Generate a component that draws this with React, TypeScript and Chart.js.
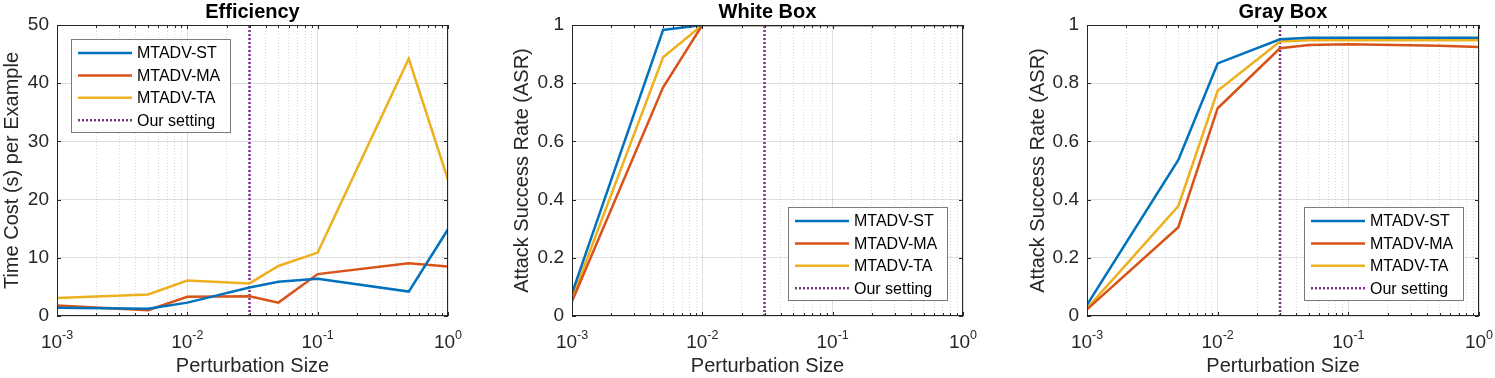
import React, { useEffect, useRef } from "react";
import { Chart, registerables } from "chart.js";

Chart.register(...registerables);

const FONT = "'Liberation Sans', Arial, Helvetica, sans-serif";

// ---------------- data ----------------
const perturbation = [0.001, 0.005, 0.01, 0.03, 0.05, 0.1, 0.5, 1];
const seriesNames = ["MTADV-ST", "MTADV-MA", "MTADV-TA"];
const settingLabel = "Our setting";
const ourSetting = 0.03;

const effST = [1.43, 1.26, 2.3, 4.9, 5.9, 6.4, 4.2, 14.9];
const effMA = [1.8, 1.0, 3.3, 3.4, 2.3, 7.2, 9.05, 8.5];
const effTA = [3.1, 3.7, 6.1, 5.6, 8.6, 10.9, 44.2, 23.4];

const whiteST = [0.078, 0.983, 1, 1, 1, 1, 1, 1];
const whiteMA = [0.05, 0.786, 1, 1, 1, 1, 1, 1];
const whiteTA = [0.06, 0.889, 1, 1, 1, 1, 1, 1];

const grayST = [0.038, 0.536, 0.868, 0.951, 0.956, 0.956, 0.956, 0.956];
const grayMA = [0.023, 0.305, 0.714, 0.92, 0.931, 0.934, 0.929, 0.924];
const grayTA = [0.026, 0.378, 0.774, 0.943, 0.948, 0.948, 0.948, 0.948];

const xMajorTicks = [0.001, 0.01, 0.1, 1];
const effYTicks = [0, 10, 20, 30, 40, 50];
const asrYTicks = [0, 0.2, 0.4, 0.6, 0.8, 1];

const panelTitles = ["Efficiency", "White Box", "Gray Box"];
const xTitle = "Perturbation Size";
const effYTitle = "Time Cost (s) per Example";
const asrYTitle = "Attack Success Rate (ASR)";

// ---------------- style ----------------
const seriesColors = ["#0072BD", "#D95319", "#EDB120"];
const settingColor = "#7E2F8E";
const axisColor = "#262626";
const gridColor = "rgba(38,38,38,0.15)";
const minorGridColor = "rgba(38,38,38,0.18)";

function minorTicks(): number[] {
  const out: number[] = [];
  for (let e = -3; e < 0; e++) {
    for (let m = 2; m <= 9; m++) out.push(m * Math.pow(10, e));
  }
  return out;
}

type PanelProps = {
  left: number;
  width: number;
  plotLeft: number;
  plotRight: number;
  yTitlePad: number;
  title: string;
  yTitle: string;
  yMax: number;
  yTicks: number[];
  series: number[][];
  legendPos: "nw" | "se";
};

function Panel(p: PanelProps) {
  const ref = useRef<HTMLCanvasElement | null>(null);

  useEffect(() => {
    if (!ref.current) return;
    const datasets: any[] = p.series.map((vals, i) => ({
      label: seriesNames[i],
      data: perturbation.map((x, j) => ({ x, y: vals[j] })),
      borderColor: seriesColors[i],
      backgroundColor: seriesColors[i],
      borderWidth: 2.5,
      pointRadius: 0,
      tension: 0,
      fill: false,
    }));
    datasets.push({
      label: settingLabel,
      data: [
        { x: ourSetting, y: 0 },
        { x: ourSetting, y: p.yMax },
      ],
      borderColor: settingColor,
      backgroundColor: settingColor,
      borderWidth: 2.5,
      borderDash: [2, 2],
      pointRadius: 0,
      fill: false,
    });

    const deco = {
      id: "deco",
      afterDraw(chart: any) {
        const { ctx, chartArea: a, scales } = chart;
        const xs = scales.x;
        const xm = scales.xMinor;
        const ys = scales.y;
        ctx.save();
        // axes box
        ctx.strokeStyle = axisColor;
        ctx.lineWidth = 1;
        ctx.strokeRect(a.left + 0.5, a.top + 0.5, a.right - a.left - 1, a.bottom - a.top - 1);
        // inward ticks
        const seg = (x1: number, y1: number, x2: number, y2: number) => {
          ctx.beginPath();
          ctx.moveTo(x1, y1);
          ctx.lineTo(x2, y2);
          ctx.stroke();
        };
        for (const t of xs.ticks) {
          const px = Math.round(xs.getPixelForValue(t.value)) + 0.5;
          seg(px, a.bottom, px, a.bottom - 4);
          seg(px, a.top, px, a.top + 4);
        }
        for (const t of xm.ticks) {
          const px = Math.round(xm.getPixelForValue(t.value)) + 0.5;
          seg(px, a.bottom, px, a.bottom - 3);
          seg(px, a.top, px, a.top + 3);
        }
        for (const t of ys.ticks) {
          const py = Math.round(ys.getPixelForValue(t.value)) + 0.5;
          seg(a.left, py, a.left + 4, py);
          seg(a.right, py, a.right - 4, py);
        }
        // x tick labels with superscript exponents
        ctx.fillStyle = axisColor;
        ctx.textBaseline = "alphabetic";
        ctx.textAlign = "left";
        for (const t of xs.ticks) {
          const px = xs.getPixelForValue(t.value);
          const exp = String(Math.round(Math.log10(t.value)));
          ctx.font = `19px ${FONT}`;
          const wb = ctx.measureText("10").width;
          ctx.font = `12.5px ${FONT}`;
          const we = ctx.measureText(exp).width;
          const start = px - (wb + we) / 2;
          ctx.font = `19px ${FONT}`;
          ctx.fillText("10", start, a.bottom + 32);
          ctx.font = `12.5px ${FONT}`;
          ctx.fillText(exp, start + wb, a.bottom + 23);
        }
        // title
        ctx.fillStyle = "#000";
        ctx.font = `bold 20px ${FONT}`;
        ctx.textAlign = "center";
        ctx.textBaseline = "middle";
        ctx.fillText(p.title, (a.left + a.right) / 2, a.top - 13);
        // legend
        const bw = 160;
        const bh = 94;
        const bx = p.legendPos === "nw" ? a.left + 14 : a.right - 15 - bw;
        const by = p.legendPos === "nw" ? a.top + 14 : a.bottom - 15 - bh;
        ctx.fillStyle = "#fff";
        ctx.fillRect(bx, by, bw, bh);
        ctx.strokeStyle = "#7a7a7a";
        ctx.lineWidth = 1;
        ctx.strokeRect(bx + 0.5, by + 0.5, bw - 1, bh - 1);
        ctx.font = `16px ${FONT}`;
        ctx.textAlign = "left";
        ctx.textBaseline = "middle";
        chart.data.datasets.forEach((ds: any, i: number) => {
          const ry = by + 14 + i * 22.4;
          ctx.strokeStyle = ds.borderColor;
          ctx.lineWidth = 2.5;
          ctx.setLineDash(ds.borderDash || []);
          seg(bx + 7, ry, bx + 61, ry);
          ctx.setLineDash([]);
          ctx.fillStyle = "#000";
          ctx.fillText(ds.label, bx + 66, ry + 1);
        });
        ctx.restore();
      },
    };

    const chart = new Chart(ref.current, {
      type: "line",
      data: { datasets },
      options: {
        animation: false,
        responsive: false,
        maintainAspectRatio: false,
        devicePixelRatio: 1,
        parsing: true,
        layout: {
          padding: { left: 0, top: 25, right: p.width - p.plotRight, bottom: 0 },
        },
        plugins: {
          legend: { display: false },
          tooltip: { enabled: false },
          title: { display: false },
        },
        scales: {
          x: {
            type: "logarithmic",
            position: "bottom",
            min: 0.001,
            max: 1,
            afterBuildTicks: (s: any) => {
              s.ticks = xMajorTicks.map((v) => ({ value: v, major: true }));
            },
            afterFit: (s: any) => {
              s.height = 62;
            },
            ticks: { display: false },
            grid: { color: gridColor, drawTicks: false, lineWidth: 1 },
            border: { display: false },
            title: {
              display: true,
              text: xTitle,
              color: axisColor,
              font: { family: FONT, size: 20 },
              padding: { top: 0, bottom: 0 },
            },
          },
          xMinor: {
            type: "logarithmic",
            axis: "x",
            position: "bottom",
            min: 0.001,
            max: 1,
            afterBuildTicks: (s: any) => {
              s.ticks = minorTicks().map((v) => ({ value: v }));
            },
            afterFit: (s: any) => {
              s.height = 0;
            },
            ticks: { display: false },
            grid: { color: minorGridColor, drawTicks: false, lineWidth: 1 },
            border: { display: false, dash: [1, 2] },
            title: { display: false },
          },
          y: {
            type: "linear",
            position: "left",
            min: 0,
            max: p.yMax,
            afterBuildTicks: (s: any) => {
              s.ticks = p.yTicks.map((v) => ({ value: v }));
            },
            afterFit: (s: any) => {
              s.width = p.plotLeft;
            },
            ticks: {
              color: axisColor,
              padding: 8,
              font: { family: FONT, size: 19 },
              callback: (v: any) => String(v),
            },
            grid: { color: gridColor, drawTicks: false, lineWidth: 1 },
            border: { display: false },
            title: {
              display: true,
              text: p.yTitle,
              color: axisColor,
              font: { family: FONT, size: 20 },
              padding: { top: p.yTitlePad, bottom: 0 },
            },
          },
        },
      } as any,
      plugins: [deco],
    });
    return () => chart.destroy();
  }, []);

  return (
    <canvas
      ref={ref}
      width={p.width}
      height={378}
      style={{ position: "absolute", left: p.left, top: 0, width: p.width, height: 378 }}
    />
  );
}

export default function App() {
  return (
    <div
      style={{
        position: "absolute",
        left: 0,
        top: 0,
        width: 1495,
        height: 378,
        background: "#fff",
        overflow: "hidden",
      }}
    >
      <Panel
        left={0}
        width={498}
        plotLeft={57}
        plotRight={448}
        yTitlePad={0}
        title={panelTitles[0]}
        yTitle={effYTitle}
        yMax={50}
        yTicks={effYTicks}
        series={[effST, effMA, effTA]}
        legendPos="nw"
      />
      <Panel
        left={498}
        width={498}
        plotLeft={74}
        plotRight={465}
        yTitlePad={12.5}
        title={panelTitles[1]}
        yTitle={asrYTitle}
        yMax={1}
        yTicks={asrYTicks}
        series={[whiteST, whiteMA, whiteTA]}
        legendPos="se"
      />
      <Panel
        left={996}
        width={499}
        plotLeft={91}
        plotRight={483}
        yTitlePad={30}
        title={panelTitles[2]}
        yTitle={asrYTitle}
        yMax={1}
        yTicks={asrYTicks}
        series={[grayST, grayMA, grayTA]}
        legendPos="se"
      />
    </div>
  );
}
